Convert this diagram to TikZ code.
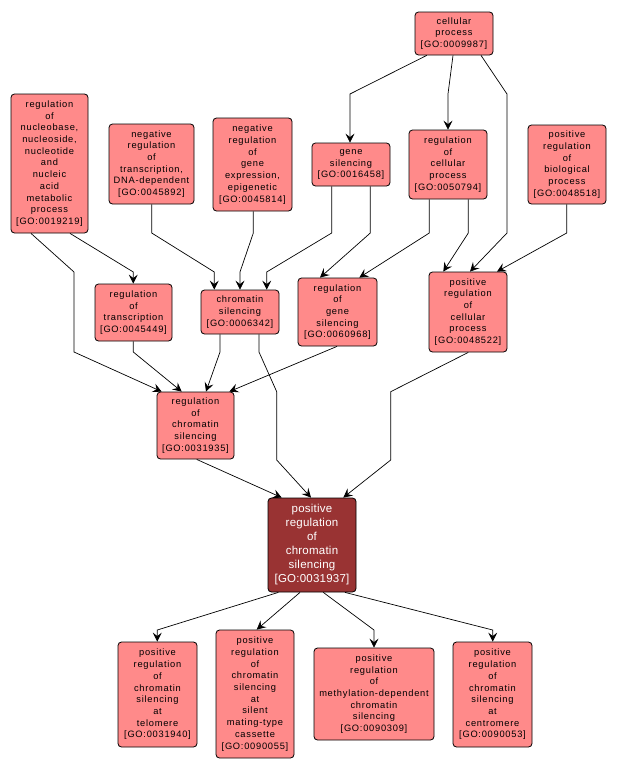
\documentclass[tikz,border=0pt]{standalone}
\usepackage{fontspec}
\setmainfont{Liberation Sans}
\newfontfamily\gofont[LetterSpace=8]{Liberation Sans}
\newfontfamily\gomainfont[LetterSpace=2]{Liberation Sans}
\usetikzlibrary{arrows.meta}
\definecolor{gofill}{RGB}{255,138,138}
\definecolor{gomain}{RGB}{153,51,51}
\tikzset{
  gobox/.style={draw=black, line width=0.8pt, fill=gofill, rounded corners=3.5pt,
    align=center, inner sep=0pt, font={\gofont\fontsize{9.3}{11.7}\selectfont}, text=black},
  gomainbox/.style={gobox, fill=gomain, text=white, font={\gomainfont\fontsize{11.5}{14}\selectfont}},
  e/.style={line width=0.7pt, draw=black, -{Stealth[length=9pt,width=9pt,inset=3.5pt]}},
}
\begin{document}
\begin{tikzpicture}[x=1pt,y=-1pt]
\path[fill=white,use as bounding box] (0,0) rectangle (616,771);
% nodes
\node[gobox, minimum width=78pt, minimum height=43pt] (cp) at (454,33.5) {cellular\\process\\{[GO:0009987]}};
\node[gobox, minimum width=77pt, minimum height=139pt] (nuc) at (49.5,163.5) {regulation\\of\\nucleobase,\\nucleoside,\\nucleotide\\and\\nucleic\\acid\\metabolic\\process\\{[GO:0019219]}};
\node[gobox, minimum width=85pt, minimum height=80pt] (negtr) at (151.5,164) {negative\\regulation\\of\\transcription,\\DNA-dependent\\{[GO:0045892]}};
\node[gobox, minimum width=79pt, minimum height=93pt] (negge) at (252.5,164.5) {negative\\regulation\\of\\gene\\expression,\\epigenetic\\{[GO:0045814]}};
\node[gobox, minimum width=78pt, minimum height=43pt] (gs) at (351,164.5) {gene\\silencing\\{[GO:0016458]}};
\node[gobox, minimum width=78pt, minimum height=69pt] (rcp) at (448,164.5) {regulation\\of\\cellular\\process\\{[GO:0050794]}};
\node[gobox, minimum width=78pt, minimum height=79pt] (prbp) at (567,164.5) {positive\\regulation\\of\\biological\\process\\{[GO:0048518]}};
\node[gobox, minimum width=77pt, minimum height=57pt] (rtr) at (133.5,312.5) {regulation\\of\\transcription\\{[GO:0045449]}};
\node[gobox, minimum width=78pt, minimum height=44pt] (cs) at (240,312) {chromatin\\silencing\\{[GO:0006342]}};
\node[gobox, minimum width=79pt, minimum height=68pt] (rgs) at (337.5,312) {regulation\\of\\gene\\silencing\\{[GO:0060968]}};
\node[gobox, minimum width=78pt, minimum height=80pt] (prcp) at (468,312) {positive\\regulation\\of\\cellular\\process\\{[GO:0048522]}};
\node[gobox, minimum width=77pt, minimum height=67pt] (rcs) at (195.5,425.5) {regulation\\of\\chromatin\\silencing\\{[GO:0031935]}};
\node[gomainbox, minimum width=88pt, minimum height=94pt] (main) at (312,545) {positive\\regulation\\of\\chromatin\\silencing\\{[GO:0031937]}};
\node[gobox, minimum width=79pt, minimum height=105pt] (tel) at (157.5,694.5) {positive\\regulation\\of\\chromatin\\silencing\\at\\telomere\\{[GO:0031940]}};
\node[gobox, minimum width=78pt, minimum height=128pt] (smt) at (255,694) {positive\\regulation\\of\\chromatin\\silencing\\at\\silent\\mating-type\\cassette\\{[GO:0090055]}};
\node[gobox, minimum width=120pt, minimum height=92pt] (meth) at (374,694) {positive\\regulation\\of\\methylation-dependent\\chromatin\\silencing\\{[GO:0090309]}};
\node[gobox, minimum width=79pt, minimum height=105pt] (cen) at (492.5,694.5) {positive\\regulation\\of\\chromatin\\silencing\\at\\centromere\\{[GO:0090053]}};
% edges
\draw[e] (426.7,0 |- cp.south) -- (350,94) -- (350,0 |- gs.north);
\draw[e] (453,0 |- cp.south) -- (448,94) -- (448,0 |- rcp.north);
\draw[e] (481,0 |- cp.south) -- (507,94) -- (507,233) -- (470,0 |- prcp.north);
\draw[e] (566.7,0 |- prbp.south) -- (566.7,233) -- (497,0 |- prcp.north);
\draw[e] (468.3,0 |- rcp.south) -- (468.3,233) -- (443.3,0 |- prcp.north);
\draw[e] (429.3,0 |- rcp.south) -- (429.3,233) -- (359.3,0 |- rgs.north);
\draw[e] (370.3,0 |- gs.south) -- (370.3,233) -- (320,0 |- rgs.north);
\draw[e] (331.7,0 |- gs.south) -- (331.7,233) -- (266.7,272) -- (266.7,0 |- cs.north);
\draw[e] (253.3,0 |- negge.south) -- (253.3,233) -- (240,272) -- (240,0 |- cs.north);
\draw[e] (151.7,0 |- negtr.south) -- (151.7,233) -- (214.3,272) -- (214.3,0 |- cs.north);
\draw[e] (70,0 |- nuc.south) -- (133.3,272) -- (133.3,0 |- rtr.north);
\draw[e] (31,0 |- nuc.south) -- (74,272) -- (74,352) -- (161.7,0 |- rcs.north);
\draw[e] (133.3,0 |- rtr.south) -- (133.3,352) -- (181.7,0 |- rcs.north);
\draw[e] (220,0 |- cs.south) -- (220,352) -- (206,0 |- rcs.north);
\draw[e] (259,0 |- cs.south) -- (259,352) -- (276.7,391.7) -- (276.7,460) -- (311,0 |- main.north);
\draw[e] (337,0 |- rgs.south) -- (229.3,0 |- rcs.north);
\draw[e] (468.3,0 |- prcp.south) -- (390.7,391.7) -- (390.7,460) -- (343.3,0 |- main.north);
\draw[e] (196.7,0 |- rcs.south) -- (281.7,0 |- main.north);
\draw[e] (278.3,0 |- main.south) -- (157.3,630) -- (157.3,0 |- tel.north);
\draw[e] (300,0 |- main.south) -- (256.7,0 |- smt.north);
\draw[e] (323.3,0 |- main.south) -- (374,630) -- (374,0 |- meth.north);
\draw[e] (345,0 |- main.south) -- (492.7,630) -- (492.7,0 |- cen.north);
\end{tikzpicture}
\end{document}
